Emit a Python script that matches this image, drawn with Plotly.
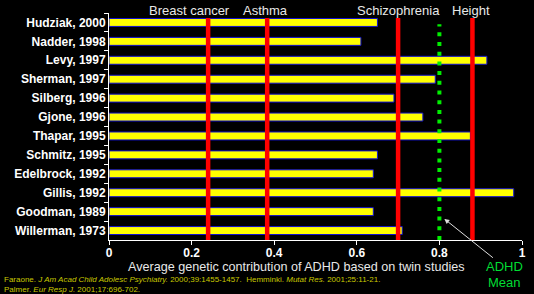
import plotly.graph_objects as go

studies = ["Hudziak, 2000", "Nadder, 1998", "Levy, 1997", "Sherman, 1997", "Silberg, 1996",
           "Gjone, 1996", "Thapar, 1995", "Schmitz, 1995", "Edelbrock, 1992", "Gillis, 1992",
           "Goodman, 1989", "Willerman, 1973"]
heritability = [0.65, 0.61, 0.915, 0.79, 0.69, 0.76, 0.875, 0.65, 0.64, 0.98, 0.64, 0.71]

benchmarks = ["Breast cancer", "Asthma", "Schizophrenia", "Height"]
benchmark_values = [0.24, 0.383, 0.70, 0.88]
adhd_mean = 0.80

x_ticks = [0, 0.2, 0.4, 0.6, 0.8, 1.0]
x_ticklabels = ["0", "0.2", "0.4", "0.6", "0.8", "1"]

FONT = "Liberation Sans, Arial, sans-serif"

fig = go.Figure()
fig.add_trace(go.Bar(
    y=studies, x=heritability, orientation="h", width=0.42,
    marker=dict(color="#ffff00", line=dict(color="#1010d0", width=1)),
    showlegend=False, hoverinfo="skip",
))

shapes = []
annotations = []
label_shift = {"Breast cancer": -19, "Asthma": -2, "Schizophrenia": 0, "Height": -1}
for name, v in zip(benchmarks, benchmark_values):
    shapes.append(dict(type="line", xref="x", yref="paper", x0=v, x1=v, y0=0.0, y1=0.978,
                       line=dict(color="#ff0000", width=4.5), layer="above"))
    annotations.append(dict(text=name, xref="x", yref="paper", x=v, y=1.012, xshift=label_shift[name],
                            showarrow=False, yanchor="middle",
                            font=dict(family=FONT, size=13, color="#e8e8e8")))

shapes.append(dict(type="line", xref="x", yref="paper", x0=adhd_mean, x1=adhd_mean, y0=0.0, y1=0.95,
                   line=dict(color="#00ee00", width=4, dash="4px,5.7px"), layer="above"))

# arrow to ADHD mean
annotations.append(dict(text="", xref="x", yref="paper", x=adhd_mean + 0.012, y=0.093,
                        ax=50, ay=40, axref="pixel", ayref="pixel", showarrow=True,
                        arrowhead=2, arrowsize=1, arrowwidth=1, arrowcolor="#e0e0e0"))
annotations.append(dict(text="ADHD", xref="paper", yref="paper", x=0.958, y=-0.117,
                        showarrow=False, yanchor="middle", xanchor="center",
                        font=dict(family=FONT, size=13, color="#00dd33")))
annotations.append(dict(text="Mean", xref="paper", yref="paper", x=0.958, y=-0.187,
                        showarrow=False, yanchor="middle", xanchor="center",
                        font=dict(family=FONT, size=13, color="#00dd33")))
annotations.append(dict(text="Average genetic contribution of ADHD based on twin studies",
                        xref="paper", yref="paper", x=0.453, y=-0.117, showarrow=False,
                        yanchor="middle", xanchor="center", borderpad=0,
                        font=dict(family=FONT, size=12.6, color="#e8e8e8")))
annotations.append(dict(text="Faraone. <i>J Am Acad Child Adolesc Psychiatry.</i> 2000;39:1455-1457.  Hemminki. <i>Mutat Res.</i> 2001;25:11-21.",
                        xref="paper", yref="paper", x=-0.257, y=-0.172, showarrow=False,
                        yanchor="middle", xanchor="left", borderpad=0,
                        font=dict(family=FONT, size=8, color="#c8c800")))
annotations.append(dict(text="Palmer. <i>Eur Resp J.</i> 2001;17:696-702.",
                        xref="paper", yref="paper", x=-0.257, y=-0.2165, showarrow=False,
                        yanchor="middle", xanchor="left", borderpad=0,
                        font=dict(family=FONT, size=8, color="#c8c800")))

fig.update_layout(
    width=534, height=294,
    margin=dict(l=109, r=12, t=13, b=54, autoexpand=False),
    paper_bgcolor="black", plot_bgcolor="black",
    font=dict(family=FONT, color="white"),
    shapes=shapes, annotations=annotations,
    xaxis=dict(range=[0, 1], tickvals=x_ticks, ticktext=x_ticklabels, showgrid=False, zeroline=False,
               showline=True, linecolor="white", linewidth=1, ticks="outside", ticklen=4,
               tickcolor="white", tickfont=dict(family=FONT, size=12, color="white", weight="bold"),
               ticklabelstandoff=-2, fixedrange=True, automargin=False),
    yaxis=dict(type="category", categoryorder="array", categoryarray=studies, autorange="reversed",
               showgrid=False, zeroline=False, showline=True, linecolor="white", linewidth=1,
               ticks="outside", ticklen=4, tickcolor="white", tickson="boundaries",
               tickfont=dict(family=FONT, size=12, color="white", weight="bold"), fixedrange=True,
               automargin=False),
    bargap=0.58,
)

fig.write_html("out.html", config={"displayModeBar": False},
               post_script="document.body.style.margin='0px';document.body.style.background='black';")
